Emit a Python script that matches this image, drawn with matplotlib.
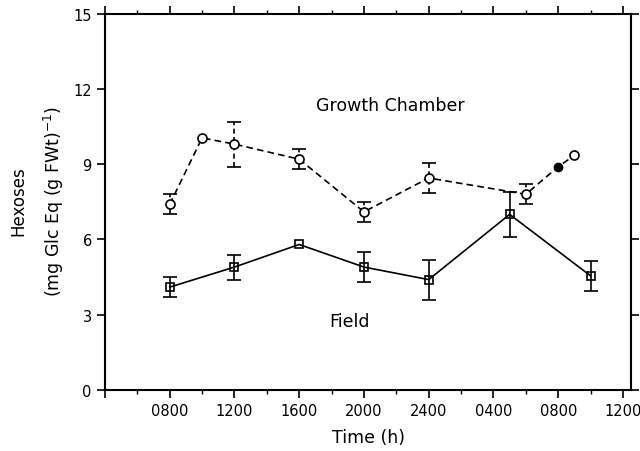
import numpy as np
import matplotlib
matplotlib.use("Agg")
import matplotlib.pyplot as plt

# Data (hours from midnight of day 1)
field_hours = [8, 12, 16, 20, 24, 29, 34]
field_vals = [4.1, 4.9, 5.8, 4.9, 4.4, 7.0, 4.55]
field_err = [0.4, 0.5, 0.0, 0.6, 0.8, 0.9, 0.6]

gc_hours = [8, 10, 12, 16, 20, 24, 30, 32, 33]
gc_vals = [7.4, 10.05, 9.8, 9.2, 7.1, 8.45, 7.8, 8.9, 9.35]
gc_err = [0.4, 0.0, 0.9, 0.4, 0.4, 0.6, 0.4, 0.0, 0.0]
gc_filled = [False, False, False, False, False, False, False, True, False]

tick_hours = [4, 8, 12, 16, 20, 24, 28, 32, 36]
tick_labels = ["", "0800", "1200", "1600", "2000", "2400", "0400", "0800", "1200"]

plt.rcParams['font.family'] = ['DejaVu Sans']

fig = plt.figure(figsize=(6.4, 4.52), dpi=100)
ax = fig.add_axes([0.164, 0.135, 0.822, 0.8325])

# Field: solid line, squares
ax.plot(field_hours, field_vals, color='black', lw=1.2, marker='s', ms=6,
        mfc='none', mec='black', mew=1.2, zorder=3)
fe = [e if e > 0 else np.nan for e in field_err]
ax.errorbar(field_hours, field_vals, yerr=fe, fmt='none', ecolor='black',
            elinewidth=1.2, capsize=5, capthick=1.2, zorder=2)

# Growth chamber: dashed line, circles
ax.plot(gc_hours, gc_vals, color='black', lw=1.2, ls=(0, (4, 2.5)),
        marker=None, zorder=3)
open_h = [h for h, f in zip(gc_hours, gc_filled) if not f]
open_v = [v for v, f in zip(gc_vals, gc_filled) if not f]
fill_h = [h for h, f in zip(gc_hours, gc_filled) if f]
fill_v = [v for v, f in zip(gc_vals, gc_filled) if f]
ax.plot(open_h, open_v, ls='none', marker='o', ms=6.5, mfc='white',
        mec='black', mew=1.2, zorder=4)
ax.plot(fill_h, fill_v, ls='none', marker='o', ms=6, mfc='black',
        mec='black', zorder=4)
ge = [e if e > 0 else np.nan for e in gc_err]
eb = ax.errorbar(gc_hours, gc_vals, yerr=ge, fmt='none', ecolor='black',
                 elinewidth=1.2, capsize=5, capthick=1.2, zorder=2)
for lc in eb[2]:
    lc.set_linestyle((0, (3, 2)))

ax.text(21.6, 11.35, "Growth Chamber", ha='center', va='center', fontsize=12.5)
ax.text(19.1, 2.75, "Field", ha='center', va='center', fontsize=12.5)

ax.set_xlim(4, 36.5)
ax.set_ylim(0, 15)
ax.set_xticks(tick_hours)
ax.set_xticklabels(tick_labels)
ax.set_xticks(np.arange(6, 36, 4), minor=True)
ax.set_yticks([0, 3, 6, 9, 12, 15])

ax.tick_params(axis='both', which='major', direction='out', length=6,
               width=1.2, labelsize=10.5, top=True, right=True)
ax.tick_params(axis='x', which='minor', direction='out', length=3,
               width=1.0, top=True)
for s in ax.spines.values():
    s.set_linewidth(1.5)

ax.set_xlabel("Time (h)", fontsize=12.5, labelpad=7)
fig.text(0.029, 0.554, "Hexoses", rotation=90, ha='center', va='center',
         fontsize=12)
fig.text(0.085, 0.554, "(mg Glc Eq (g FWt)$^{-1}$)", rotation=90,
         ha='center', va='center', fontsize=12.5)

fig.savefig("out.png", dpi=100)
